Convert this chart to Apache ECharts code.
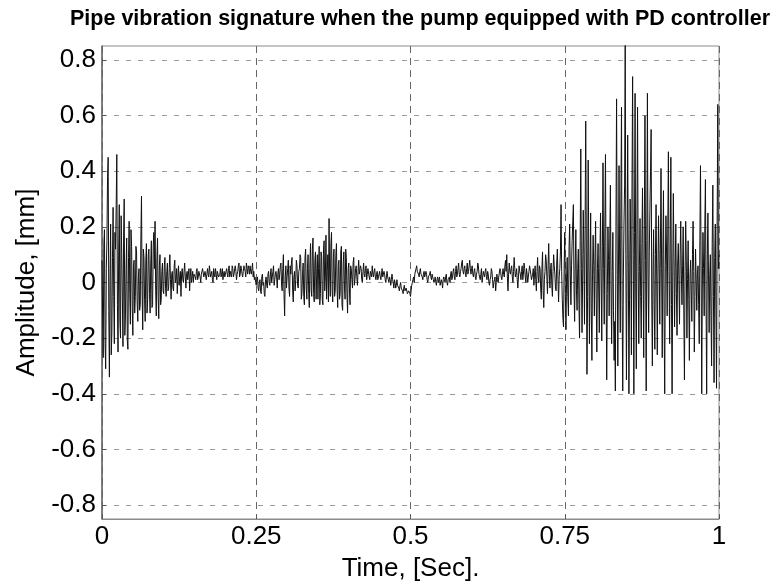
<!DOCTYPE html>
<html>
<head>
<meta charset="utf-8">
<script src="https://cdn.jsdelivr.net/npm/echarts@6/dist/echarts.min.js"></script>
<style>
  html, body { margin: 0; padding: 0; background: #fff; }
  #chart { width: 777px; height: 587px; }
</style>
</head>
<body>
<div id="chart"></div>
<script>
// Sampling step of the recorded trace, seconds; each block below holds 50 ms
const sampleStep = 0.001;
const blockSpan = 0.05;

// Pipe displacement, mm, one value per millisecond
const amp000 = [
  0.08, -0.12, -0.27, 0.14, 0.19, -0.22, -0.31, 0.05, 0.15, 0.38,
  0.45, -0.10, -0.34, 0.02, 0.21, -0.26, -0.18, 0.09, 0.27, -0.05,
  -0.22, 0.18, 0.12, 0.28, 0.46, -0.08, -0.25, 0.11, 0.28, -0.14,
  -0.20, 0.24, 0.10, -0.06, -0.23, 0.17, 0.30, -0.19, -0.12, 0.05,
  0.16, -0.21, -0.24, 0.09, 0.22, -0.04, -0.15, 0.19, 0.13, -0.09];
const amp005 = [
  -0.19, 0.06, 0.08, -0.11, -0.05, 0.13, 0.11, -0.07, -0.14, 0.02,
  0.05, -0.10, -0.08, 0.16, 0.31, -0.03, -0.17, 0.12, 0.09, -0.06,
  -0.14, 0.08, 0.14, -0.11, -0.06, 0.10, 0.12, -0.04, -0.11, 0.07,
  0.15, -0.09, -0.08, 0.13, 0.18, 0.05, 0.22, -0.03, -0.12, 0.09,
  0.16, -0.05, -0.13, 0.06, 0.10, -0.08, -0.06, 0.04, 0.07, -0.03];
const amp010 = [
  -0.04, 0.06, 0.09, -0.02, -0.05, 0.04, 0.07, -0.03, -0.02, 0.05,
  0.10, 0.01, -0.06, 0.03, 0.04, -0.02, -0.03, 0.06, 0.08, 0.00,
  0.01, 0.05, -0.04, 0.02, 0.06, -0.01, 0.02, 0.04, -0.05, 0.03,
  0.05, 0.01, 0.00, 0.04, 0.07, 0.02, -0.02, 0.03, 0.04, 0.01,
  0.01, 0.05, -0.03, 0.02, 0.05, 0.00, 0.02, 0.04, 0.00, 0.03];
const amp015 = [
  0.03, 0.02, 0.01, 0.04, 0.05, 0.01, 0.02, 0.04, 0.04, 0.02,
  0.00, 0.03, 0.03, 0.05, 0.05, 0.02, 0.02, 0.04, 0.04, 0.01,
  0.01, 0.05, 0.03, 0.02, 0.06, 0.04, 0.02, 0.03, 0.04, 0.01,
  0.00, 0.05, 0.03, 0.02, 0.05, 0.03, 0.01, 0.04, 0.04, 0.02,
  0.02, 0.03, 0.05, 0.02, 0.03, 0.05, 0.01, 0.03, 0.04, 0.02];
const amp020 = [
  0.03, 0.04, 0.05, 0.03, 0.02, 0.05, 0.06, 0.02, 0.04, 0.03,
  0.02, 0.06, 0.05, 0.02, 0.03, 0.05, 0.06, 0.04, 0.01, 0.03,
  0.04, 0.06, 0.07, 0.02, 0.03, 0.06, 0.05, 0.03, 0.02, 0.04,
  0.06, 0.05, 0.04, 0.02, 0.07, 0.05, 0.03, 0.06, 0.05, 0.03,
  0.06, 0.04, 0.03, 0.05, 0.07, 0.02, 0.04, 0.01, 0.02, 0.00];
const amp025 = [
  -0.01, 0.01, 0.02, -0.02, -0.03, 0.00, 0.01, -0.03, -0.04, 0.02,
  0.03, -0.01, 0.00, -0.04, -0.05, 0.01, 0.02, -0.01, -0.02, 0.03,
  0.04, 0.00, -0.01, 0.03, 0.05, 0.00, 0.02, 0.04, 0.06, -0.01,
  0.01, 0.03, 0.04, 0.02, -0.02, 0.03, 0.05, 0.01, 0.03, 0.06,
  0.07, -0.01, -0.03, 0.05, 0.10, -0.04, -0.12, 0.02, 0.06, -0.02];
const amp030 = [
  0.02, 0.05, 0.08, -0.02, -0.05, 0.06, 0.03, 0.07, 0.09, -0.03,
  -0.07, 0.02, 0.04, -0.03, 0.01, 0.08, 0.06, -0.01, -0.02, 0.04,
  0.05, 0.10, 0.09, -0.06, -0.04, 0.03, 0.07, -0.05, -0.08, 0.09,
  0.12, -0.02, -0.06, 0.05, 0.10, -0.04, -0.09, 0.07, 0.14, -0.03,
  -0.05, 0.12, 0.16, -0.04, -0.07, 0.08, 0.11, -0.06, 0.03, 0.10];
const amp035 = [
  -0.06, 0.05, 0.13, -0.08, -0.04, 0.11, 0.09, -0.06, -0.08, 0.12,
  0.15, -0.03, 0.02, 0.17, -0.06, 0.04, 0.10, -0.07, 0.23, 0.02,
  -0.05, 0.14, 0.18, -0.03, -0.07, 0.09, 0.12, -0.05, -0.03, 0.10,
  0.14, -0.02, -0.09, 0.06, 0.08, -0.06, -0.04, 0.11, 0.13, -0.08,
  -0.10, 0.07, 0.11, -0.02, -0.06, 0.12, 0.09, -0.04, -0.11, 0.05];
const amp040 = [
  0.07, -0.02, -0.08, 0.06, 0.05, 0.01, -0.02, 0.07, 0.09, -0.01,
  0.01, 0.05, 0.06, 0.02, -0.01, 0.04, 0.08, 0.03, 0.03, 0.06,
  0.05, 0.01, 0.00, 0.04, 0.07, 0.03, 0.02, 0.05, 0.06, 0.01,
  0.03, 0.05, 0.05, 0.02, 0.01, 0.04, 0.04, 0.02, 0.06, 0.03,
  0.02, 0.04, 0.05, 0.02, 0.01, 0.03, 0.04, 0.01, 0.02, 0.03];
const amp045 = [
  0.04, 0.02, 0.01, 0.03, 0.05, 0.02, 0.02, 0.04, 0.03, 0.01,
  0.00, 0.02, 0.04, 0.02, 0.01, 0.00, 0.02, 0.01, -0.01, 0.01,
  0.03, 0.01, 0.00, -0.02, 0.01, 0.00, -0.02, -0.01, 0.01, -0.01,
  -0.01, -0.02, -0.03, -0.01, 0.00, -0.02, -0.02, -0.03, -0.04, -0.02,
  -0.01, -0.03, -0.03, -0.02, -0.02, -0.04, -0.04, -0.03, -0.03, -0.04];
const amp050 = [
  -0.05, -0.03, -0.01, 0.00, 0.01, 0.02, 0.00, 0.03, 0.03, 0.05,
  0.06, 0.04, 0.04, 0.03, 0.02, 0.04, 0.05, 0.03, 0.03, 0.02,
  0.01, 0.03, 0.04, 0.02, 0.02, 0.04, 0.03, 0.01, 0.00, 0.02,
  0.02, 0.03, 0.04, 0.02, 0.01, 0.03, 0.03, 0.01, 0.00, 0.01,
  0.02, 0.00, -0.01, 0.01, 0.02, 0.00, 0.01, 0.02, -0.01, 0.00];
const amp055 = [
  0.01, 0.00, -0.02, 0.01, 0.02, 0.01, 0.00, 0.02, 0.03, 0.00,
  -0.01, 0.01, 0.01, 0.02, 0.00, 0.03, 0.04, 0.01, 0.02, 0.04,
  0.05, 0.02, 0.01, 0.04, 0.06, 0.02, 0.03, 0.05, 0.07, 0.03,
  0.02, 0.04, 0.05, 0.07, 0.08, 0.04, 0.03, 0.05, 0.06, 0.03,
  0.02, 0.05, 0.07, 0.03, 0.04, 0.06, 0.08, 0.05, 0.03, 0.05];
const amp060 = [
  0.06, 0.03, 0.02, 0.04, 0.05, 0.02, 0.01, 0.03, 0.04, 0.07,
  0.06, 0.03, 0.02, 0.01, 0.03, 0.05, 0.00, 0.02, 0.04, 0.03,
  0.02, 0.04, 0.05, 0.02, 0.01, 0.04, 0.03, 0.00, -0.01, 0.01,
  0.02, 0.05, 0.04, 0.01, -0.02, 0.00, 0.01, 0.02, -0.03, 0.00,
  0.03, 0.01, 0.00, 0.02, 0.02, 0.05, 0.04, 0.02, 0.01, 0.03];
const amp065 = [
  0.05, 0.03, 0.02, 0.06, 0.08, 0.04, 0.10, 0.02, -0.03, 0.03,
  0.07, 0.04, 0.03, 0.05, 0.06, 0.02, 0.00, 0.04, 0.09, 0.05,
  0.02, 0.03, 0.05, 0.01, -0.02, 0.02, 0.06, 0.04, 0.03, 0.01,
  0.04, 0.06, 0.01, 0.03, 0.07, 0.05, 0.02, 0.00, 0.05, 0.03,
  0.00, 0.02, 0.04, 0.06, 0.06, 0.03, 0.01, 0.02, 0.03, 0.05];
const amp070 = [
  -0.01, 0.03, 0.06, 0.01, -0.03, 0.04, 0.09, 0.02, 0.00, 0.06,
  0.05, -0.02, -0.06, 0.05, 0.11, -0.03, -0.09, 0.01, 0.04, 0.10,
  0.08, 0.02, -0.04, 0.06, 0.14, 0.03, -0.02, 0.05, 0.07, -0.01,
  -0.05, 0.04, 0.10, 0.06, 0.03, -0.02, -0.03, 0.07, 0.12, 0.01,
  -0.07, 0.02, 0.05, 0.11, 0.28, 0.04, -0.06, -0.13, -0.16, 0.05];
const amp075 = [
  0.18, -0.04, -0.17, 0.02, 0.09, -0.05, -0.12, 0.13, 0.21, 0.03,
  -0.08, 0.06, 0.15, 0.22, 0.28, -0.02, -0.14, 0.07, 0.19, -0.03,
  -0.10, 0.05, 0.12, -0.08, -0.20, 0.15, 0.48, 0.05, -0.18, 0.02,
  0.26, 0.10, -0.15, 0.21, 0.58, 0.12, -0.33, -0.05, 0.44, 0.08,
  -0.22, 0.04, 0.25, -0.10, -0.28, 0.03, 0.17, 0.06, -0.12, 0.09];
const amp080 = [
  0.22, -0.06, -0.25, 0.05, 0.14, -0.02, -0.18, 0.10, 0.25, 0.02,
  -0.21, 0.13, 0.43, 0.05, -0.15, 0.20, 0.46, 0.00, -0.35, -0.04,
  0.20, 0.08, -0.12, 0.16, 0.35, -0.02, -0.22, 0.04, 0.18, -0.10,
  -0.28, -0.14, -0.39, 0.20, 0.66, 0.11, -0.30, 0.03, 0.42, 0.06,
  -0.18, 0.30, 0.63, -0.08, -0.39, 0.02, 0.21, 0.35, 0.88, 0.10];
const amp085 = [
  -0.35, 0.05, 0.53, 0.08, -0.40, -0.06, 0.30, 0.12, -0.26, 0.35,
  0.74, 0.10, -0.40, 0.18, 0.68, -0.02, -0.31, 0.25, 0.63, 0.04,
  -0.22, 0.06, 0.23, -0.05, -0.20, 0.14, 0.34, 0.02, -0.27, 0.21,
  0.60, 0.08, -0.39, 0.15, 0.68, 0.03, -0.18, 0.11, 0.26, 0.40,
  0.55, -0.06, -0.30, 0.04, 0.19, -0.08, -0.24, 0.10, 0.28, 0.02];
const amp090 = [
  -0.26, 0.03, 0.24, 0.08, -0.15, 0.12, 0.41, 0.05, -0.27, 0.10,
  0.33, -0.12, -0.40, 0.06, 0.24, 0.11, -0.12, 0.20, 0.47, 0.04,
  -0.22, 0.16, 0.45, -0.08, -0.40, 0.02, 0.32, 0.09, -0.16, 0.05,
  0.21, -0.04, -0.19, 0.07, 0.14, 0.01, -0.15, 0.10, 0.22, 0.03,
  -0.08, 0.06, 0.20, -0.12, -0.35, 0.04, 0.22, 0.08, -0.20, 0.01];
const amp095 = [
  0.15, -0.06, -0.28, 0.02, 0.08, -0.03, -0.14, 0.10, 0.22, 0.04,
  -0.25, -0.05, 0.12, 0.01, -0.10, 0.03, 0.06, -0.08, -0.22, 0.15,
  0.42, 0.06, -0.40, -0.02, 0.18, 0.05, -0.12, 0.20, 0.37, -0.06,
  -0.40, 0.08, 0.25, 0.03, -0.18, 0.02, 0.10, -0.12, -0.30, 0.14,
  0.35, -0.05, -0.36, 0.09, 0.21, -0.10, -0.38, 0.22, 0.64, 0.05,
  0.10];

// Axis ticks
const xTicks = [0, 0.25, 0.5, 0.75, 1];
const yTicks = [-0.8, -0.6, -0.4, -0.2, 0, 0.2, 0.4, 0.6, 0.8];

const blocks = [amp000, amp005, amp010, amp015, amp020, amp025, amp030, amp035,
  amp040, amp045, amp050, amp055, amp060, amp065, amp070, amp075, amp080,
  amp085, amp090, amp095];

// [time, amplitude] pairs, each block starting at its own 50 ms mark
const trace = [];
blocks.forEach((block, b) => {
  block.forEach((v, i) => {
    trace.push([+(b * blockSpan + i * sampleStep).toFixed(4), v]);
  });
});

const FONT = '"Liberation Sans", Arial, sans-serif';

const chart = echarts.init(document.getElementById('chart'), null, { renderer: 'canvas' });
chart.setOption({
  animation: false,
  backgroundColor: '#ffffff',
  title: {
    text: 'Pipe vibration signature when the pump equipped with PD controller',
    left: 415,
    top: 3,
    textAlign: 'center',
    textStyle: { fontFamily: FONT, fontSize: 21.5, fontWeight: 'bold', color: '#000' }
  },
  grid: {
    left: 102, right: 58, top: 46, bottom: 67,
    show: true, borderColor: '#8a8a8a', borderWidth: 1, backgroundColor: 'transparent'
  },
  xAxis: {
    type: 'value',
    min: 0, max: 1, interval: 0.25,
    name: 'Time, [Sec].',
    nameLocation: 'middle',
    nameGap: 37,
    nameTextStyle: { fontFamily: FONT, fontSize: 26, color: '#000' },
    axisLine: { show: true, onZero: false, lineStyle: { color: '#8a8a8a', width: 1 } },
    axisTick: { show: true, inside: true, length: 4, customValues: xTicks, lineStyle: { color: '#555' } },
    axisLabel: { customValues: xTicks, margin: 5, fontFamily: FONT, fontSize: 26, color: '#000',
      formatter: v => String(v) },
    splitLine: { show: true, lineStyle: { color: '#666', type: [7, 5], width: 1 } }
  },
  yAxis: {
    type: 'value',
    min: -0.85, max: 0.85,
    name: 'Amplitude, [mm]',
    nameLocation: 'middle',
    nameGap: 60,
    nameTextStyle: { fontFamily: FONT, fontSize: 26, color: '#000' },
    axisLine: { show: true, onZero: false, lineStyle: { color: '#666', width: 1.5 } },
    axisTick: { show: true, inside: true, length: 4, customValues: yTicks, lineStyle: { color: '#555' } },
    axisLabel: { customValues: yTicks, margin: 6, fontFamily: FONT, fontSize: 26, color: '#000',
      formatter: v => String(+v.toFixed(1)) },
    splitLine: { show: true, lineStyle: { color: '#9a9a9a', type: [5, 7], width: 1 } }
  },
  series: [{
    type: 'line',
    data: trace,
    showSymbol: false,
    clip: true,
    sampling: null,
    lineStyle: { color: '#111', width: 1 },
    emphasis: { disabled: true }
  }]
});
</script>
</body>
</html>
